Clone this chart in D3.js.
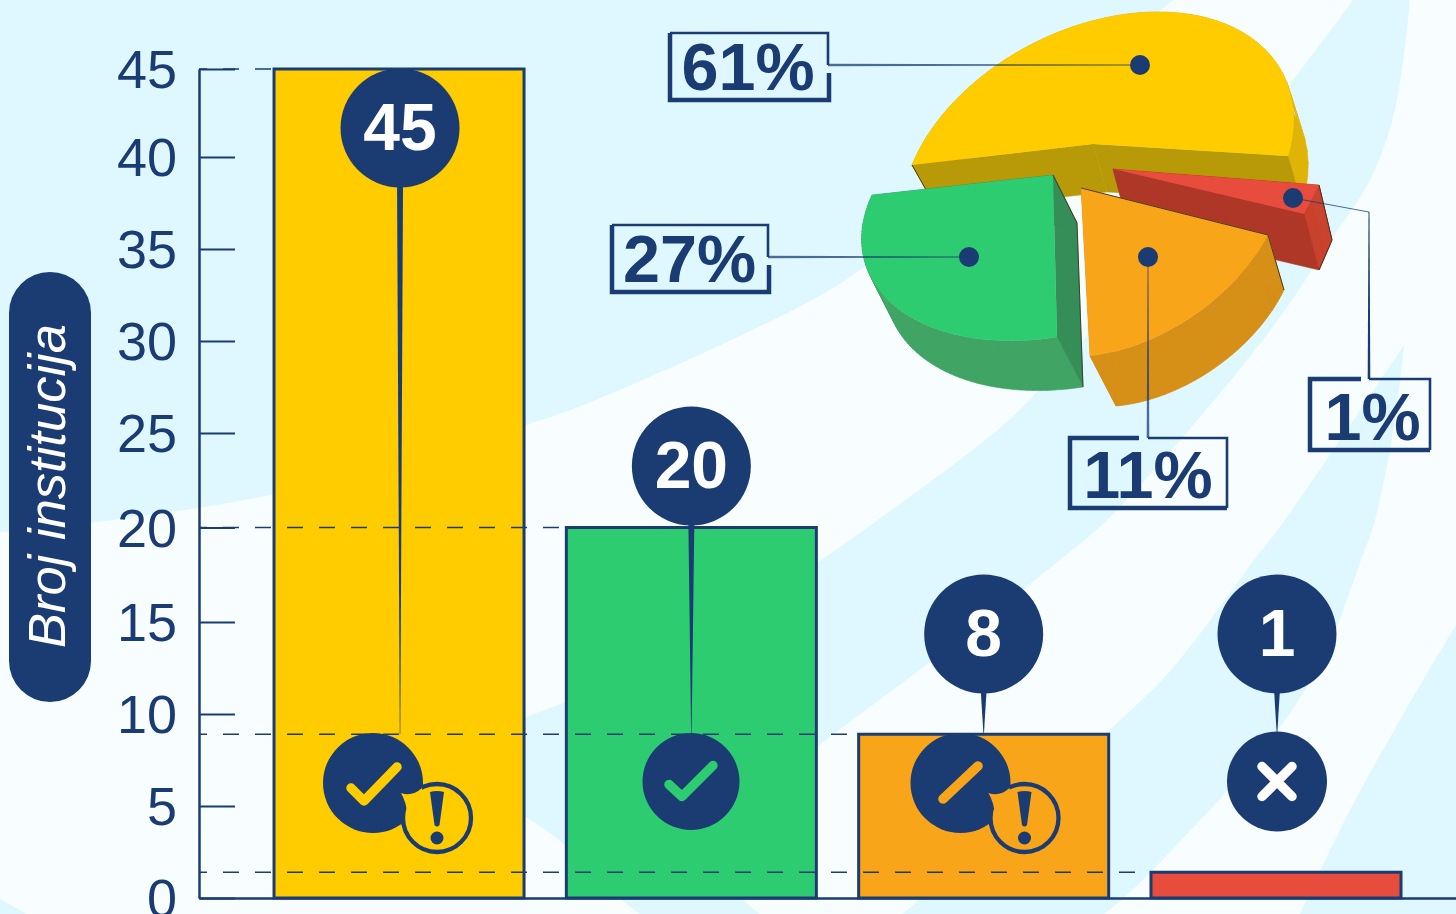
<!DOCTYPE html>
<html>
<head>
<meta charset="utf-8">
<title>Broj institucija</title>
<script src="https://cdn.jsdelivr.net/npm/d3@7"></script>
<style>
  html, body { margin: 0; padding: 0; background: #f8feff; overflow: hidden; }
  svg { display: block; font-family: "Liberation Sans", Arial, sans-serif; }
</style>
</head>
<body>
<div id="chart"></div>
<script>
// Values
const barKeys = ["checkWarn", "check", "slashWarn", "cross"];
const barLabels = [45, 20, 8, 1];
const barHeights = [45, 20, 8.9, 1.4];   // drawn heights differ a little from the printed labels
const yTicks = [0, 5, 10, 15, 20, 25, 30, 35, 40, 45];
const pieShares = [61, 27, 11, 1];
const yTitle = "Broj institucija";

// Colours
const navy = "#1a3c73";
const barColors = ["#ffcc00", "#2ecc71", "#f9a51a", "#e74c3c"];
const rimColors = ["#e0b406", "#40a564", "#d68f17", "#c9432f"];
const innerColors = ["#b89a08", "#358e57", "#d68f17", "#ae3728"];
const cyan = "#dff8ff";

const svg = d3.select("#chart").append("svg")
    .attr("width", 1456)
    .attr("height", 914);

svg.append("rect").attr("width", 1456).attr("height", 914).attr("fill", "#f8feff");

// Background swooshes
const swoosh = d3.line().curve(d3.curveCatmullRom.alpha(0.5));
const bandPath = sections => sections.map((s, i) => i ? swoosh(s).replace("M", "L") : swoosh(s)).join("") + "Z";
const bgBands = [
    [[[0, 0], [1173, 0]],
     [[1173, 0], [1030, 125], [860, 270], [797, 308], [596, 400], [526, 425], [280, 493], [90, 523], [0, 532]]],
    [[[1353, 0], [1296, 76], [1200, 190], [1100, 320], [1038, 391], [1000, 428], [817, 563], [700, 640], [565, 702], [526, 717], [430, 760]],
     [[430, 760], [526, 817], [565, 845], [622, 900], [640, 914]],
     [[640, 914], [760, 914]],
     [[760, 914], [743, 900], [690, 850]],
     [[690, 850], [817, 747], [930, 662], [1060, 560], [1107, 520], [1217, 397], [1283, 313], [1333, 237], [1370, 180], [1395, 110], [1410, 0]]],
    [[[1404, 345], [1285, 520], [1254, 560], [1171, 670], [1106, 733], [1000, 828], [903, 914]],
     [[903, 914], [1104, 914]],
     [[1104, 914], [1125, 897], [1225, 793], [1290, 713], [1328, 648], [1361, 560], [1375, 520], [1395, 420], [1404, 345]]],
    [[[1456, 625], [1400, 720], [1350, 810], [1300, 914]],
     [[1300, 914], [1456, 914]]],
    [[[0, 899], [27, 914]],
     [[27, 914], [0, 914]]]
];
svg.append("g").selectAll("path")
    .data(bgBands)
    .join("path")
        .attr("d", bandPath)
        .attr("fill", cyan);

// Scales
const x = d3.scaleBand()
    .domain(barKeys)
    .range([199, 1456])
    .paddingInner(0.1447)
    .paddingOuter(0.2224)
    .align(0.577);

// The printed ticks are not evenly spaced in the original, so the scale is piecewise
const y = d3.scaleLinear()
    .domain([0, 15, 25, 40, 45])
    .range([898, 622, 433, 157, 69]);

// Bars
svg.append("g").selectAll("rect")
    .data(barKeys)
    .join("rect")
        .attr("x", d => x(d))
        .attr("y", (d, i) => y(barHeights[i]))
        .attr("width", x.bandwidth())
        .attr("height", (d, i) => y(0) - y(barHeights[i]))
        .attr("fill", (d, i) => barColors[i])
        .attr("stroke", navy)
        .attr("stroke-width", 3);

// Dashed guides from the axis to each bar's left edge
svg.append("g").selectAll("line")
    .data(barKeys)
    .join("line")
        .attr("x1", 199)
        .attr("x2", d => x(d))
        .attr("y1", (d, i) => y(barHeights[i]))
        .attr("y2", (d, i) => y(barHeights[i]))
        .attr("stroke", navy)
        .attr("stroke-width", 1.5)
        .attr("stroke-dasharray", "16 16")
        .attr("stroke-dashoffset", 8);

// Axes
const yAxis = svg.append("g")
    .attr("transform", "translate(199,0)")
    .call(d3.axisLeft(y).tickValues(yTicks).tickSizeInner(-36).tickSizeOuter(0).tickPadding(22));
yAxis.selectAll("text")
    .attr("dy", 0)
    .attr("y", 18.5)
    .attr("font-size", 54)
    .attr("font-family", "Liberation Sans")
    .attr("fill", navy);
yAxis.selectAll("line").attr("stroke", navy).attr("stroke-width", 2.2);
yAxis.select(".domain").attr("stroke", navy).attr("stroke-width", 2.5);

const xAxis = svg.append("g")
    .attr("transform", "translate(0,898)")
    .call(d3.axisBottom(x).tickValues([]).tickSizeOuter(0));
xAxis.select(".domain").attr("stroke", navy).attr("stroke-width", 2.6);

// Y title pill
svg.append("rect")
    .attr("x", 9).attr("y", 272)
    .attr("width", 82).attr("height", 430)
    .attr("rx", 41)
    .attr("fill", navy);
svg.append("text")
    .attr("transform", "translate(65,486) rotate(-90)")
    .attr("text-anchor", "middle")
    .attr("font-size", 52.5)
    .attr("font-style", "italic")
    .attr("fill", "white")
    .text(yTitle);

// Thin tapered polygon between two points
function taper(a, b, wa, wb) {
    const dx = b[0] - a[0], dy = b[1] - a[1], len = Math.hypot(dx, dy);
    const nx = -dy / len / 2, ny = dx / len / 2;
    return `M${a[0] + nx * wa},${a[1] + ny * wa}L${b[0] + nx * wb},${b[1] + ny * wb}` +
           `L${b[0] - nx * wb},${b[1] - ny * wb}L${a[0] - nx * wa},${a[1] - ny * wa}Z`;
}

// Value bubbles and the icons under them
const bubbleY = [128, 466, 634, 634];
const bubbleNudge = [1, 0, 0, 1];
const iconCenters = [[373, 783, 50], [691, 781.5, 48.5], [960.5, 783, 50], [1277, 781.5, 50]];
const bubbleX = (d, i) => x(d) + x.bandwidth() / 2 + bubbleNudge[i];

const marks = svg.append("g").selectAll("g")
    .data(barKeys)
    .join("g");

marks.append("path")
    .attr("d", (d, i) => taper([bubbleX(d, i), bubbleY[i] + 55], [bubbleX(d, i), 734], 6, 0.5))
    .attr("fill", navy);
marks.append("circle")
    .attr("cx", bubbleX)
    .attr("cy", (d, i) => bubbleY[i])
    .attr("r", 59.5)
    .attr("fill", navy);
marks.append("text")
    .attr("x", bubbleX)
    .attr("y", (d, i) => bubbleY[i] + 22)
    .attr("text-anchor", "middle")
    .attr("font-size", 66)
    .attr("font-weight", "bold")
    .attr("fill", "white")
    .text((d, i) => barLabels[i]);

marks.append("circle")
    .attr("cx", (d, i) => iconCenters[i][0])
    .attr("cy", (d, i) => iconCenters[i][1])
    .attr("r", (d, i) => iconCenters[i][2])
    .attr("fill", navy);

const glyphs = {
    checkWarn: "M-22,5L-9,18L24,-16",
    check: "M-22,3L-9,15L22,-16",
    slashWarn: "M-17.5,16L17.5,-17",
    cross: "M-15,-15L15,15M-15,15L15,-15"
};
marks.append("path")
    .attr("transform", (d, i) => `translate(${iconCenters[i][0]},${iconCenters[i][1]})`)
    .attr("d", d => glyphs[d])
    .attr("fill", "none")
    .attr("stroke", (d, i) => d === "cross" ? "white" : barColors[i])
    .attr("stroke-width", 9.5)
    .attr("stroke-linecap", "round")
    .attr("stroke-linejoin", "round");

// Warning badge on the two partial answers
const badges = marks.filter(d => d === "checkWarn" || d === "slashWarn")
    .append("g")
    .attr("transform", d => {
        const c = iconCenters[barKeys.indexOf(d)];
        return `translate(${c[0] + 64},${c[1] + 35})`;
    });
badges.append("circle")
    .attr("r", 34)
    .attr("fill", d => barColors[barKeys.indexOf(d)])
    .attr("stroke", navy)
    .attr("stroke-width", 4.3);
badges.append("path")
    .attr("d", "M-36,-25Q-25,-21 -15,-30L-12,-12L-30,-4Q-30,-14 -36,-25Z")
    .attr("fill", d => barColors[barKeys.indexOf(d)]);
badges.append("path")
    .attr("d", "M-7,-26Q0,-28 7,-26L2.5,7Q0,10 -2.5,7Z")
    .attr("fill", navy);
badges.append("circle")
    .attr("cy", 20)
    .attr("r", 6.5)
    .attr("fill", navy);

// 3D pie: slice angles come from d3.pie, each angle is then projected onto the page
// through a homography that maps the unit disc sector to the slice's skewed top face.
function homography(src, dst) {
    const A = [];
    src.forEach((s, i) => {
        const [u, v] = s, [px, py] = dst[i];
        A.push([u, v, 1, 0, 0, 0, -u * px, -v * px, px]);
        A.push([0, 0, 0, u, v, 1, -u * py, -v * py, py]);
    });
    for (let c = 0; c < 8; c++) {
        let p = c;
        for (let r = c + 1; r < 8; r++) if (Math.abs(A[r][c]) > Math.abs(A[p][c])) p = r;
        [A[c], A[p]] = [A[p], A[c]];
        for (let r = 0; r < 8; r++) {
            if (r === c) continue;
            const f = A[r][c] / A[c][c];
            for (let k = c; k < 9; k++) A[r][k] -= f * A[c][k];
        }
    }
    const h = A.map((row, i) => row[8] / row[i]);
    return ([u, v]) => {
        const w = h[6] * u + h[7] * v + 1;
        return [(h[0] * u + h[1] * v + h[2]) / w, (h[3] * u + h[4] * v + h[5]) / w];
    };
}

// Where each slice ends up on the page (exploded and in perspective).
// The big slice is too flat at its apex to project from the disc centre, so it
// is pinned by two extra rim points instead (rimAt: fraction along the arc, page point).
const sliceFrames = [
    { apex: [1093, 144], e0: [1288, 156], e1: [912, 165], rimAt: [[0.2, [1250, 37]], [0.72, [1000, 63]]],
      d0: [14, 48], d1: [26, 46], dApex: [14, 48], dot: [1140, 65] },
    { apex: [1053, 175], e0: [872, 195], mid: [889, 301], e1: [1057, 337],
      d0: [24, 48], d1: [26, 50], dApex: [24, 48], dot: [969, 257] },
    { apex: [1081, 188], e0: [1090, 356], mid: [1190, 318], e1: [1268, 235],
      d0: [26, 50], d1: [16, 55], dApex: [20, 50], dot: [1148, 257] },
    { apex: [1113, 169], e0: [1304, 214], mid: [1311.6, 199.55], e1: [1319, 185],
      d0: [15, 56], d1: [13, 55], dApex: [15, 56], dot: [1293, 198] }
];

const pieArcs = d3.pie().sort(null)
    .startAngle(Math.PI * pieShares[0] / 100)
    .endAngle(Math.PI * pieShares[0] / 100 - 2 * Math.PI)(pieShares);

const unit = a => [Math.sin(a), -Math.cos(a)];
const add = (p, d) => [p[0] + d[0], p[1] + d[1]];
const poly = d3.line();

const slices = pieArcs.map((arc, i) => {
    const f = sliceFrames[i];
    const a0 = arc.startAngle, a1 = arc.endAngle;
    const at = t => a0 + (a1 - a0) * t;
    const project = f.rimAt
        ? homography([unit(a0), unit(at(f.rimAt[0][0])), unit(at(f.rimAt[1][0])), unit(a1)],
                     [f.e0, f.rimAt[0][1], f.rimAt[1][1], f.e1])
        : homography([[0, 0], unit(a0), unit(at(0.5)), unit(a1)], [f.apex, f.e0, f.mid, f.e1]);
    const steps = d3.range(0, 61).map(k => k / 60);
    const rim = steps.map(t => project(unit(at(t))));
    const rimLow = rim.map((p, k) => add(p, [
        f.d0[0] + (f.d1[0] - f.d0[0]) * steps[k],
        f.d0[1] + (f.d1[1] - f.d0[1]) * steps[k]
    ]));
    return { i, f, rim, rimLow };
});

// Yellow sits at the back, then red, orange and green in front
const pieOrder = [0, 3, 2, 1];
const pie = svg.append("g");
pieOrder.map(i => slices[i]).forEach(s => {
    const f = s.f, low = add(f.apex, f.dApex);
    const e0Low = add(f.e0, f.d0), e1Low = add(f.e1, f.d1);
    const g = pie.append("g");
    const wall = (pts, color) => g.append("path")
        .attr("d", poly(pts) + "Z")
        .attr("fill", color)
        .attr("stroke", color)
        .attr("stroke-width", 0.5);

    // on the thin red slice this cut face is behind everything else
    if (s.i === 3) wall([f.apex, f.e1, e1Low, low], innerColors[3]);
    // outer wall, one quad per rim step
    g.append("path")
        .attr("d", s.rim.slice(1).map((p, k) =>
            poly([s.rim[k], p, s.rimLow[k + 1], s.rimLow[k]]) + "Z").join(""))
        .attr("fill", rimColors[s.i])
        .attr("stroke", rimColors[s.i])
        .attr("stroke-width", 0.6);
    // cut faces
    if (s.i !== 3) wall([f.apex, f.e1, e1Low, low], innerColors[s.i]);
    wall([f.apex, f.e0, e0Low, low], innerColors[s.i]);
    // top face
    g.append("path")
        .attr("d", poly([f.apex, ...s.rim]) + "Z")
        .attr("fill", barColors[s.i]);
    // hairline on the sharp edges
    const edges = [
        [f.e1, e1Low],
        [f.apex, low, e1Low],
        [f.apex, f.e1, e1Low],
        [f.e1, e1Low, e0Low]
    ][s.i];
    g.append("path")
        .attr("d", poly(edges))
        .attr("fill", "none")
        .attr("stroke", "#3a3220")
        .attr("stroke-width", 0.9);
});

// Percent label boxes. The frame is drawn with a thick part and a thin part, like the original.
const boxes = [
    { x0: 670, y0: 33, x1: 828, y1: 100, tx: 748, ty: 90, thickTo: null, from: [828, 65], via: [] },
    { x0: 612, y0: 225, x1: 768, y1: 292, tx: 689.5, ty: 282, thickTo: null, from: [768, 257], via: [] },
    { x0: 1070, y0: 438, x1: 1227, y1: 508, tx: 1148, ty: 498, thickTo: 1139, from: [1148, 438], via: [] },
    { x0: 1310, y0: 379, x1: 1430, y1: 450, tx: 1372.5, ty: 440, thickTo: 1361, from: [1369, 379], via: [[1369, 212]] }
];

const labels = svg.append("g");
boxes.forEach((b, i) => {
    const dot = sliceFrames[i].dot;
    const points = [b.from, ...b.via, dot];
    // leader, fading out toward the dot
    points.slice(1).forEach((p, k) => {
        const first = points[k];
        const w0 = k === 0 ? 2.6 : 1.0;
        const w1 = points.length - 2 === k ? 0.8 : 1.0;
        labels.append("path")
            .attr("d", taper(first, p, w0, w1))
            .attr("fill", navy)
            .attr("opacity", k === points.length - 2 ? 0.75 : 1);
    });
    const g = labels.append("g").attr("fill", "none").attr("stroke", navy);
    if (b.thickTo === null) {
        // gap on the right side under the leader
        g.append("path")
            .attr("d", `M${b.x1 + 1},${b.from[1] + 8}V${b.y1}H${b.x0}V${b.y0}`)
            .attr("stroke-width", 4.5);
        g.append("path")
            .attr("d", `M${b.x0},${b.y0}H${b.x1}V${b.from[1]}`)
            .attr("stroke-width", 2.6);
    } else {
        // gap on the top side beside the leader
        g.append("path")
            .attr("d", `M${b.thickTo},${b.y0}H${b.x0}V${b.y1}H${b.x1}`)
            .attr("stroke-width", 4.5);
        g.append("path")
            .attr("d", `M${b.from[0]},${b.y0}H${b.x1}V${b.y1}`)
            .attr("stroke-width", 2.6);
    }
    labels.append("text")
        .attr("x", b.tx)
        .attr("y", b.ty)
        .attr("text-anchor", "middle")
        .attr("font-size", 66.5)
        .attr("font-weight", "bold")
        .attr("fill", navy)
        .text(pieShares[i] + "%");
    labels.append("circle")
        .attr("cx", dot[0])
        .attr("cy", dot[1])
        .attr("r", 10)
        .attr("fill", navy);
});
</script>
</body>
</html>
